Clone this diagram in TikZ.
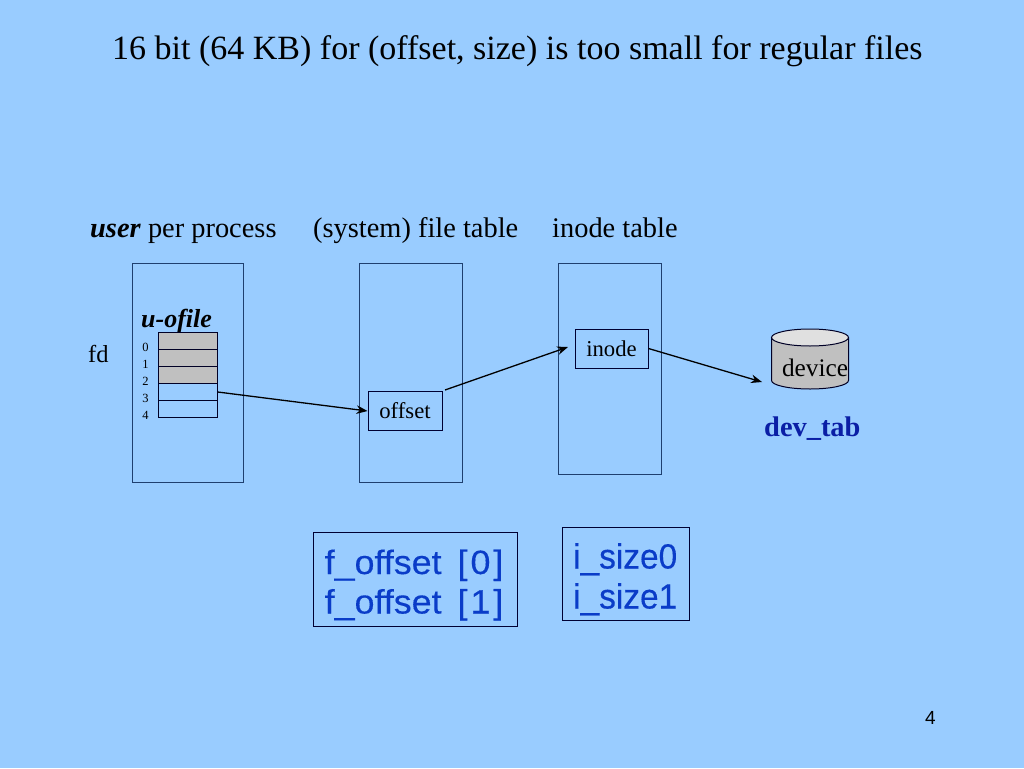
\documentclass[tikz,border=0pt]{standalone}
\usepackage{fontspec}
\setmainfont{Liberation Serif}
\setsansfont{Liberation Sans}
\newfontfamily\widesans[FakeStretch=1.06,FakeBold=0.3]{Liberation Sans}
\newfontfamily\narrowsans[FakeStretch=0.955,FakeBold=0.3]{Liberation Sans}
\usetikzlibrary{arrows.meta}
\definecolor{bg}{HTML}{99CCFF}
\definecolor{boxline}{HTML}{1F3F6F}
\definecolor{cellgray}{HTML}{C0C0C0}
\definecolor{topgray}{HTML}{E0E0E0}
\definecolor{bluetxt}{HTML}{0A3CC8}
\definecolor{devblue}{HTML}{0A1EA5}
\newcommand{\fs}[1]{\fontsize{#1}{#1}\selectfont}
\tikzset{
  x=1pt,y=-1pt,
  lbl/.style={inner sep=0pt,text=black,anchor=base west},
  tablebox/.style={draw=boxline,line width=1.2pt,inner sep=0pt,anchor=north west},
  itembox/.style={draw=black!80!blue,line width=1pt,inner sep=0pt,font=\fs{22.7}},
  cell/.style={draw=black!85!blue,line width=1.1pt,inner sep=0pt,minimum width=59.5pt,minimum height=17pt,anchor=north west},
  idx/.style={inner sep=0pt,font=\fs{12.5},anchor=base},
  conn/.style={draw=black,line width=1.3pt,-{Stealth[length=11pt,width=8.5pt]}},
  bluebox/.style={draw=black!80!blue,line width=1pt,inner sep=0pt,anchor=north west},
  bluef/.style={inner sep=0pt,anchor=base west,text=bluetxt,font=\widesans\fs{33.8}},
  bluei/.style={inner sep=0pt,anchor=base west,text=bluetxt,font=\narrowsans\fs{35}}
}
\begin{document}
\begin{tikzpicture}
\useasboundingbox (0,0) rectangle (1024,768);
\fill[bg] (0,0) rectangle (1024,768);
\node[lbl,font=\fs{34}] (title) at (112,59.5) {16 bit (64 KB) for (offset, size) is too small for regular files};
\node[lbl,font=\fs{28.4}] (userlbl) at (90,237) {\textbf{\textit{user}} per process};
\node[lbl,font=\fs{28.4}] (filelbl) at (313,237) {(system) file table};
\node[lbl,font=\fs{28.4}] (inodelbl) at (552,237) {inode table};
\node[tablebox,minimum width=111pt,minimum height=219pt] (proc) at (131.6,263) {};
\node[tablebox,minimum width=103pt,minimum height=219pt] (ftab) at (359,263) {};
\node[tablebox,minimum width=103pt,minimum height=211pt] (itab) at (557.7,263) {};
\node[lbl,font=\bfseries\itshape\fs{26}] (uofile) at (141,327.5) {u-ofile};
\node[lbl,font=\fs{24.5}] (fd) at (88,362) {fd};
\node[cell,fill=cellgray] (c0) at (157.5,332) {};
\node[cell,fill=cellgray] (c1) at (157.5,349) {};
\node[cell,fill=cellgray] (c2) at (157.5,366) {};
\node[cell] (c3) at (157.5,383) {};
\node[cell] (c4) at (157.5,400) {};
\node[idx] (i0) at (145.5,351) {0};
\node[idx] (i1) at (145.5,368) {1};
\node[idx] (i2) at (145.5,385) {2};
\node[idx] (i3) at (145.5,402) {3};
\node[idx] (i4) at (145.5,419) {4};
\node[itembox,minimum width=74pt,minimum height=39pt] (offset) at (405,411) {\raisebox{-0.7pt}{offset}};
\node[itembox,minimum width=73pt,minimum height=39pt] (inode) at (611.5,348.5) {\raisebox{-1pt}{inode}};
\filldraw[fill=cellgray,draw=black!85!blue,line width=1pt] (771.5,337.5) -- (771.5,380.5) arc[start angle=180,end angle=360,x radius=38.5,y radius=-8.5] -- (848.5,337.5);
\filldraw[fill=topgray,draw=black!85!blue,line width=1pt] (810,337.5) ellipse[x radius=38.5,y radius=8.5];
\node[inner sep=0pt,font=\fs{25.3}] (device) at (815,368) {device};
\coordinate (devend) at (762,382);
\coordinate (offstart) at (445,390);
\coordinate (inodeend) at (568,347);
\node[lbl,font=\bfseries\fs{28.4},text=devblue] (devtab) at (764,436.5) {dev\_tab};
\draw[conn] (c3.east) -- (offset.west);
\draw[conn] (offstart) -- (inodeend);
\draw[conn] (inode.east) -- (devend);
\node[bluebox,minimum width=204pt,minimum height=94pt] (fbox) at (313.3,531.5) {};
\node[bluef] (f0) at (324.5,574) {f\_offset\hspace{16pt}[\hspace{3pt}0\hspace{3pt}]};
\node[bluef] (f1) at (324.5,613.5) {f\_offset\hspace{16pt}[\hspace{3pt}1\hspace{3pt}]};
\node[bluebox,minimum width=127pt,minimum height=93pt] (ibox) at (561.5,527) {};
\node[bluei] (s0) at (573,568.5) {i\_size0};
\node[bluei] (s1) at (573,608.5) {i\_size1};
\node[inner sep=0pt,anchor=base west,font=\sffamily\fs{19}] (page) at (925,724) {4};
\end{tikzpicture}
\end{document}
